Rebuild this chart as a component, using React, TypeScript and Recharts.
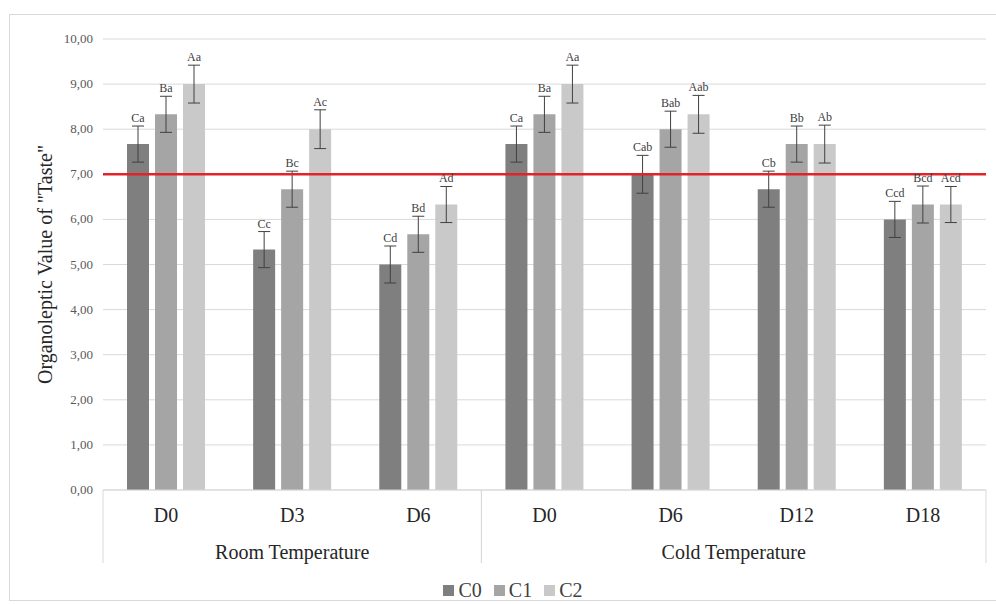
import React from 'react';
import {
  ComposedChart, Bar, XAxis, YAxis, CartesianGrid, ErrorBar, LabelList, ReferenceLine, Legend,
} from 'recharts';

const days = ['D0', 'D3', 'D6', 'D0', 'D6', 'D12', 'D18'];
const groups = ['Room Temperature', 'Room Temperature', 'Room Temperature', 'Cold Temperature', 'Cold Temperature', 'Cold Temperature', 'Cold Temperature'];

const seriesNames = ['C0', 'C1', 'C2'];
const c0 = [7.67, 5.33, 5.0, 7.67, 7.0, 6.67, 6.0];
const c1 = [8.33, 6.67, 5.67, 8.33, 8.0, 7.67, 6.33];
const c2 = [9.0, 8.0, 6.33, 9.0, 8.33, 7.67, 6.33];
const c0Err = [0.4, 0.4, 0.41, 0.4, 0.42, 0.4, 0.4];
const c1Err = [0.4, 0.4, 0.4, 0.4, 0.4, 0.4, 0.41];
const c2Err = [0.42, 0.43, 0.4, 0.42, 0.42, 0.42, 0.4];
const c0Labels = ['Ca', 'Cc', 'Cd', 'Ca', 'Cab', 'Cb', 'Ccd'];
const c1Labels = ['Ba', 'Bc', 'Bd', 'Ba', 'Bab', 'Bb', 'Bcd'];
const c2Labels = ['Aa', 'Ac', 'Ad', 'Aa', 'Aab', 'Ab', 'Acd'];
const yTicks = [0, 1, 2, 3, 4, 5, 6, 7, 8, 9, 10];
const threshold = 7;
const yLabel = 'Organoleptic Value of "Taste"';

const colors = ['#7f7f7f', '#a5a5a5', '#c9c9c9'];
const FONT = '"Liberation Serif", "Times New Roman", serif';
const CHART_W = 996;
const CHART_H = 604;
const MARGIN = { top: 39, right: 10, bottom: 2, left: 0 };
const Y_AXIS_W = 103;
const BAND = (CHART_W - MARGIN.left - MARGIN.right - Y_AXIS_W) / days.length;

const data = days.map((d, i) => ({
  key: `${groups[i]}-${d}-${i}`,
  c0: c0[i], c1: c1[i], c2: c2[i],
  c0e: c0Err[i], c1e: c1Err[i], c2e: c2Err[i],
}));

const makeLabel = (labels: string[], errs: number[]) => (props: any) => {
  const vb = props.viewBox || props;
  const x = vb.x ?? props.x;
  const y = vb.y ?? props.y;
  const width = vb.width ?? props.width;
  const height = vb.height ?? props.height;
  const index = props.index;
  const value = props.value;
  if (index == null || !value) return null;
  const perUnit = height / value;
  const top = y - errs[index] * perUnit - 4;
  return (
    <text x={x + width / 2} y={top} textAnchor="middle" fontSize={12} fill="#404040" fontFamily={FONT}>
      {labels[index]}
    </text>
  );
};

const XTick = (props: any) => {
  const { x, y, payload } = props;
  const i = payload.index;
  const g = groups[i];
  const first = groups.indexOf(g);
  const last = groups.lastIndexOf(g);
  const els: any[] = [];
  els.push(
    <text key="d" x={x} y={y + 32} textAnchor="middle" fontSize={20} fill="#262626" fontFamily={FONT}>
      {days[i]}
    </text>
  );
  if (i === first) {
    els.push(<line key="l" x1={x - BAND / 2} x2={x - BAND / 2} y1={y} y2={y + 73} stroke="#d9d9d9" strokeWidth={1} />);
    const cx = x + ((last - first) / 2) * BAND;
    els.push(
      <text key="g" x={cx} y={y + 69} textAnchor="middle" fontSize={20} fill="#262626" fontFamily={FONT}>
        {g}
      </text>
    );
  }
  if (i === last) {
    els.push(<line key="r" x1={x + BAND / 2} x2={x + BAND / 2} y1={y} y2={y + 73} stroke="#d9d9d9" strokeWidth={1} />);
  }
  return <g>{els}</g>;
};

const YTick = (props: any) => {
  const { x, y, payload } = props;
  return (
    <text x={x} y={y} dy={4} textAnchor="end" fontSize={13} fill="#595959" fontFamily={FONT}>
      {Number(payload.value).toFixed(2).replace('.', ',')}
    </text>
  );
};

const LegendContent = (props: any) => {
  const payload = props.payload || [];
  return (
    <div style={{ display: 'flex', justifyContent: 'center', alignItems: 'center', height: 24, paddingLeft: 40, boxSizing: 'border-box', width: '100%', fontFamily: FONT }}>
      {payload.map((p: any, i: number) => (
        <div key={i} style={{ display: 'flex', alignItems: 'center', marginRight: i < payload.length - 1 ? 12 : 0 }}>
          <span style={{ display: 'inline-block', width: 11, height: 11, background: p.color, marginRight: 4 }} />
          <span style={{ fontSize: 20, color: '#404040', lineHeight: '24px' }}>{p.value}</span>
        </div>
      ))}
    </div>
  );
};

export default function App() {
  return (
    <div style={{ position: 'absolute', left: 0, top: 0, width: CHART_W, height: CHART_H, background: '#fff', overflow: 'hidden' }}>
      <div style={{ position: 'absolute', left: 9, top: 14, width: 1000, height: 585, border: '1px solid #d9d9d9' }} />
      <div style={{ position: 'absolute', left: 0, top: 0 }}>
        <ComposedChart width={CHART_W} height={CHART_H} data={data} margin={MARGIN} barSize={22} barGap={6} style={{ fontFamily: FONT }}>
          <CartesianGrid vertical={false} stroke="#d9d9d9" />
          <XAxis
            dataKey="key"
            interval={0}
            tickLine={false}
            tickSize={0}
            tickMargin={0}
            height={88}
            axisLine={{ stroke: '#d9d9d9' }}
            tick={<XTick />}
          />
          <YAxis
            width={Y_AXIS_W}
            domain={[0, 10]}
            ticks={yTicks}
            axisLine={false}
            tickLine={false}
            tickSize={0}
            tickMargin={10}
            tick={<YTick />}
            label={{ value: yLabel, angle: -90, position: 'insideLeft', offset: 45, style: { textAnchor: 'middle', fontSize: 20, fill: '#262626', fontFamily: FONT } }}
          />
          <Legend verticalAlign="bottom" content={<LegendContent />} />
          <Bar dataKey="c0" name={seriesNames[0]} fill={colors[0]} isAnimationActive={false}>
            <ErrorBar dataKey="c0e" width={6} stroke="#404040" strokeWidth={1} direction="y" />
            <LabelList dataKey="c0" content={makeLabel(c0Labels, c0Err)} />
          </Bar>
          <Bar dataKey="c1" name={seriesNames[1]} fill={colors[1]} isAnimationActive={false}>
            <ErrorBar dataKey="c1e" width={6} stroke="#404040" strokeWidth={1} direction="y" />
            <LabelList dataKey="c1" content={makeLabel(c1Labels, c1Err)} />
          </Bar>
          <Bar dataKey="c2" name={seriesNames[2]} fill={colors[2]} isAnimationActive={false}>
            <ErrorBar dataKey="c2e" width={6} stroke="#404040" strokeWidth={1} direction="y" />
            <LabelList dataKey="c2" content={makeLabel(c2Labels, c2Err)} />
          </Bar>
          <ReferenceLine y={threshold} stroke="#e0242a" strokeWidth={2.5} ifOverflow="visible" />
        </ComposedChart>
      </div>
    </div>
  );
}
